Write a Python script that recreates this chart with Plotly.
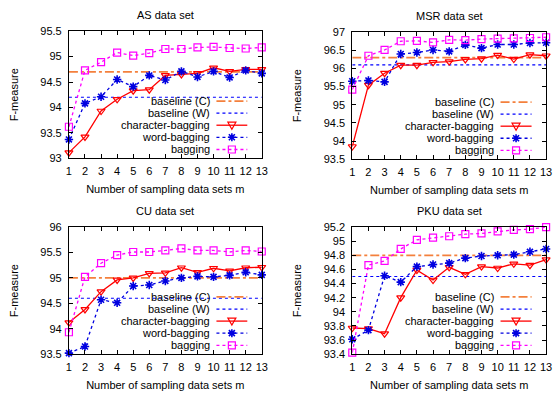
import plotly.graph_objects as go

# ---------------- data ----------------
m_values = list(range(1, 14))
series_names = ["baseline (C)", "baseline (W)", "character-bagging", "word-bagging", "bagging"]
panel_titles = ["AS data set", "MSR data set", "CU data set", "PKU data set"]

as_base_c = 94.7
as_base_w = 94.2
as_char = [93.11, 93.42, 93.93, 94.16, 94.33, 94.35, 94.63, 94.65, 94.67, 94.78, 94.71, 94.75, 94.75]
as_word = [93.37, 94.08, 94.21, 94.55, 94.41, 94.63, 94.54, 94.71, 94.60, 94.71, 94.59, 94.73, 94.67]
as_bag = [93.62, 94.73, 94.89, 95.08, 95.02, 95.07, 95.15, 95.15, 95.18, 95.19, 95.17, 95.16, 95.18]

msr_base_c = 96.3
msr_base_w = 96.1
msr_char = [93.85, 95.54, 95.87, 96.09, 96.09, 96.17, 96.19, 96.25, 96.27, 96.37, 96.26, 96.38, 96.35]
msr_word = [95.65, 95.67, 95.63, 96.40, 96.44, 96.51, 96.47, 96.65, 96.56, 96.66, 96.66, 96.70, 96.71]
msr_bag = [95.42, 96.35, 96.51, 96.75, 96.76, 96.72, 96.79, 96.78, 96.81, 96.82, 96.83, 96.84, 96.86]

cu_base_c = 95.0
cu_base_w = 94.6
cu_char = [94.12, 94.38, 94.73, 94.96, 95.00, 95.09, 95.10, 95.20, 95.11, 95.19, 95.14, 95.20, 95.21]
cu_word = [93.52, 93.65, 94.57, 94.51, 94.84, 94.86, 94.94, 95.00, 95.03, 95.02, 95.05, 95.11, 95.06]
cu_bag = [93.93, 95.02, 95.29, 95.45, 95.51, 95.51, 95.54, 95.58, 95.54, 95.54, 95.51, 95.54, 95.52]

pku_base_c = 94.8
pku_base_w = 94.5
pku_char = [93.77, 93.76, 93.69, 94.20, 94.59, 94.45, 94.63, 94.53, 94.64, 94.62, 94.68, 94.66, 94.74]
pku_word = [93.61, 93.74, 94.51, 94.42, 94.64, 94.67, 94.69, 94.76, 94.79, 94.80, 94.81, 94.85, 94.89]
pku_bag = [93.42, 94.66, 94.72, 94.89, 95.02, 95.05, 95.07, 95.10, 95.11, 95.14, 95.16, 95.17, 95.20]

y_ranges = [[93.0, 95.5], [93.5, 97.0], [93.5, 96.0], [93.4, 95.2]]
y_dticks = [0.5, 0.5, 0.5, 0.2]

panels = [
    (as_base_c, as_base_w, as_char, as_word, as_bag),
    (msr_base_c, msr_base_w, msr_char, msr_word, msr_bag),
    (cu_base_c, cu_base_w, cu_char, cu_word, cu_bag),
    (pku_base_c, pku_base_w, pku_char, pku_word, pku_bag),
]

# ---------------- styles ----------------
W, H = 558, 396
FONT = "Liberation Sans, Arial, Helvetica, sans-serif"
FS = 11

styles = [
    dict(color="#f4803c", dash="dashdot", width=1.8, symbol=None),
    dict(color="#0000ff", dash="dot", width=1.2, symbol=None),
    dict(color="#ff0000", dash="solid", width=1.3, symbol="triangle-down-open"),
    dict(color="#0000e0", dash="3px,3px", width=1.3, symbol="asterisk-open"),
    dict(color="#ff00ff", dash="dot", width=1.3, symbol="square-open"),
]

# plot areas in pixels: (left, right, top, bottom)
areas = [(67, 263, 26, 157), (355, 552, 27, 158), (67, 263, 228, 359), (355, 552, 228, 359)]
key_rows = [0.45, 0.355, 0.26, 0.165, 0.069]

fig = go.Figure()

for p, (area, data) in enumerate(zip(areas, panels)):
    ax = "" if p == 0 else str(p + 1)
    xref, yref = "x" + ax, "y" + ax
    base_c, base_w, ch, wd, bg = data
    ys = [[base_c] * len(m_values), [base_w] * len(m_values), ch, wd, bg]
    for i, (name, yv) in enumerate(zip(series_names, ys)):
        st = styles[i]
        tr = dict(x=m_values, y=yv, name=name, xaxis=xref, yaxis=yref, showlegend=False,
                  cliponaxis=False,
                  line=dict(color=st["color"], dash=st["dash"], width=st["width"]))
        if st["symbol"]:
            tr["mode"] = "lines+markers"
            tr["marker"] = dict(symbol=st["symbol"], size=7,
                                color=st["color"],
                                line=dict(color=st["color"], width=1.6 if i == 3 else 1.2))
        else:
            tr["mode"] = "lines"
        fig.add_trace(go.Scatter(**tr))

    l, r, t, b = area
    xdom = [l / W, r / W]
    ydom = [1 - b / H, 1 - t / H]
    common = dict(showline=True, mirror="ticks", linecolor="black", linewidth=1,
                  ticks="inside", ticklen=4, tickcolor="black", showgrid=False,
                  zeroline=False, tickfont=dict(family=FONT, size=FS, color="black"))
    fig.layout["xaxis" + ax] = dict(domain=xdom, anchor=yref, range=[1, 13], tick0=1, dtick=1,
                                    ticklabelstandoff=3,
                                    title=dict(text="Number of sampling data sets m",
                                               font=dict(family=FONT, size=FS, color="black"),
                                               standoff=8),
                                    **common)
    fig.layout["yaxis" + ax] = dict(domain=ydom, anchor=xref, range=y_ranges[p],
                                    tick0=y_ranges[p][0], dtick=y_dticks[p],
                                    ticklabelstandoff=4,
                                    title=dict(text="F-measure",
                                               font=dict(family=FONT, size=FS, color="black"),
                                               standoff=19),
                                    **common)
    # panel title
    fig.add_annotation(text=panel_titles[p], xref="paper", yref="paper",
                       x=(xdom[0] + xdom[1]) / 2, y=1 - (t - 17) / H,
                       xanchor="center", yanchor="middle", showarrow=False,
                       font=dict(family=FONT, size=FS, color="black"))
    # key inside the panel, lower right
    xd, yd = xref + " domain", yref + " domain"
    for i, name in enumerate(series_names):
        st = styles[i]
        fig.add_annotation(text=name, xref=xd, yref=yd, x=0.735, y=key_rows[i],
                           xanchor="right", yanchor="middle", showarrow=False, borderpad=0,
                           font=dict(family=FONT, size=FS, color="black"))
        fig.add_shape(type="line", xref=xd, yref=yd, x0=0.765, x1=0.925,
                      y0=key_rows[i], y1=key_rows[i],
                      line=dict(color=st["color"], dash=st["dash"], width=st["width"]))
        if st["symbol"] == "triangle-down-open":
            path = "M-4,3 L4,3 L0,-4 Z"
        elif st["symbol"] == "asterisk-open":
            path = "M-4,0 L4,0 M0,-4 L0,4 M-3,-3 L3,3 M-3,3 L3,-3"
        elif st["symbol"] == "square-open":
            path = "M-3.5,-3.5 L3.5,-3.5 L3.5,3.5 L-3.5,3.5 Z"
        else:
            path = None
        if path:
            fig.add_shape(type="path", xref=xd, yref=yd, xsizemode="pixel", ysizemode="pixel",
                          xanchor=0.845, yanchor=key_rows[i], path=path,
                          line=dict(color=st["color"], width=1.6 if i == 3 else 1.2),
                          fillcolor="rgba(0,0,0,0)")

fig.update_layout(width=W, height=H, margin=dict(l=0, r=0, t=0, b=0),
                  paper_bgcolor="white", plot_bgcolor="white", showlegend=False,
                  font=dict(family=FONT, size=FS, color="black"))

fig.write_html("out.html")
